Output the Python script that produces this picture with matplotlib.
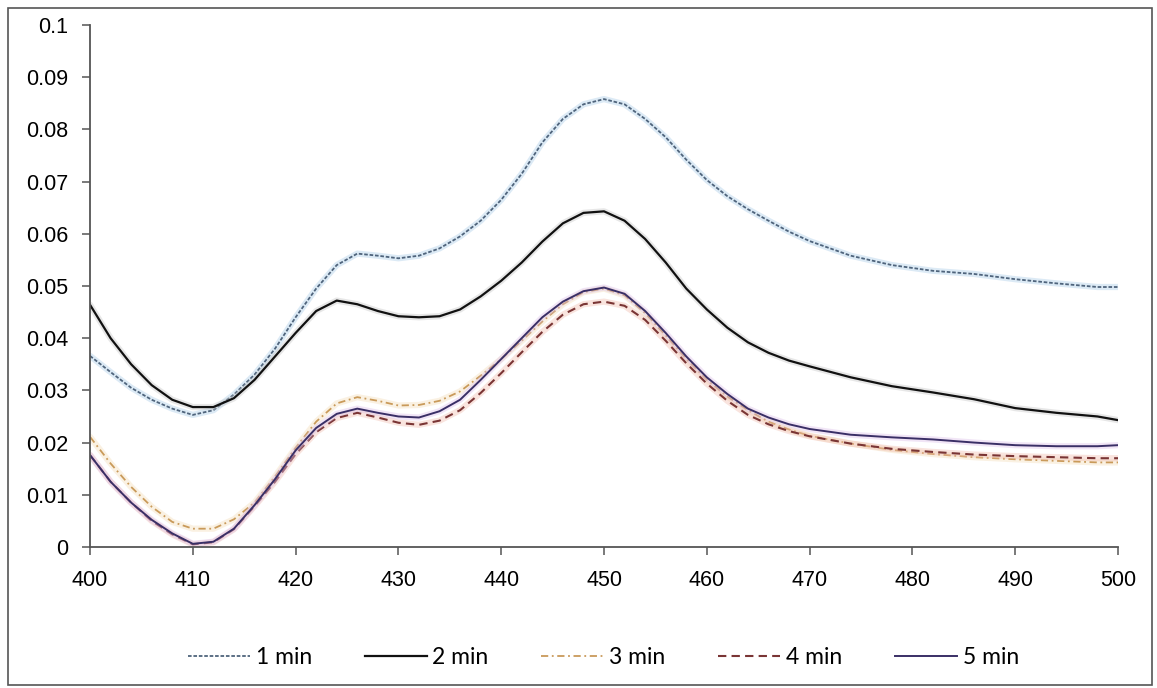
import matplotlib
matplotlib.use("Agg")
import matplotlib.pyplot as plt

# wavelength (nm)
wl = [400, 402, 404, 406, 408, 410, 412, 414, 416, 418, 420, 422, 424, 426,
      428, 430, 432, 434, 436, 438, 440, 442, 444, 446, 448, 450, 452, 454,
      456, 458, 460, 462, 464, 466, 468, 470, 474, 478, 482, 486, 490, 494,
      498, 500]

# absorbance after each reaction time
abs_1min = [0.0366, 0.0335, 0.0305, 0.0282, 0.0265, 0.0253, 0.0262, 0.0292, 0.0330,
            0.0380, 0.0440, 0.0495, 0.0540, 0.0562, 0.0558, 0.0553, 0.0558, 0.0572,
            0.0595, 0.0625, 0.0665, 0.0715, 0.0775, 0.0820, 0.0848, 0.0858, 0.0848,
            0.0820, 0.0785, 0.0742, 0.0703, 0.0672, 0.0647, 0.0625, 0.0604, 0.0586,
            0.0558, 0.0540, 0.0529, 0.0523, 0.0513, 0.0505, 0.0498, 0.0498]
abs_2min = [0.0464, 0.0400, 0.0350, 0.0310, 0.0282, 0.0268, 0.0268, 0.0285, 0.0320,
            0.0365, 0.0410, 0.0452, 0.0472, 0.0465, 0.0452, 0.0442, 0.0440, 0.0442,
            0.0455, 0.0480, 0.0510, 0.0545, 0.0585, 0.0620, 0.0640, 0.0643, 0.0625,
            0.0590, 0.0545, 0.0495, 0.0455, 0.0420, 0.0392, 0.0372, 0.0357, 0.0346,
            0.0325, 0.0308, 0.0296, 0.0283, 0.0266, 0.0257, 0.0250, 0.0243]
abs_3min = [0.0211, 0.0160, 0.0115, 0.0077, 0.0048, 0.0035, 0.0035, 0.0053, 0.0085,
            0.0135, 0.0190, 0.0240, 0.0275, 0.0287, 0.0280, 0.0271, 0.0272, 0.0280,
            0.0298, 0.0328, 0.0360, 0.0395, 0.0432, 0.0465, 0.0488, 0.0495, 0.0482,
            0.0448, 0.0405, 0.0360, 0.0320, 0.0288, 0.0262, 0.0240, 0.0225, 0.0213,
            0.0198, 0.0186, 0.0178, 0.0172, 0.0168, 0.0165, 0.0162, 0.0162]
abs_4min = [0.0176, 0.0125, 0.0085, 0.0050, 0.0024, 0.0005, 0.0009, 0.0034, 0.0078,
            0.0125, 0.0178, 0.0220, 0.0247, 0.0257, 0.0248, 0.0238, 0.0234, 0.0242,
            0.0262, 0.0295, 0.0333, 0.0373, 0.0412, 0.0445, 0.0465, 0.0470, 0.0462,
            0.0435, 0.0395, 0.0352, 0.0313, 0.0280, 0.0253, 0.0235, 0.0222, 0.0212,
            0.0198, 0.0188, 0.0182, 0.0177, 0.0174, 0.0172, 0.0170, 0.0170]
abs_5min = [0.0176, 0.0125, 0.0085, 0.0052, 0.0026, 0.0006, 0.0010, 0.0035, 0.0080,
            0.0130, 0.0185, 0.0228, 0.0255, 0.0265, 0.0257, 0.0250, 0.0248, 0.0260,
            0.0282, 0.0320, 0.0360, 0.0400, 0.0440, 0.0470, 0.0490, 0.0497, 0.0485,
            0.0452, 0.0410, 0.0365, 0.0325, 0.0293, 0.0265, 0.0248, 0.0235, 0.0226,
            0.0215, 0.0210, 0.0206, 0.0200, 0.0195, 0.0193, 0.0193, 0.0195]

labels = ["1 min", "2 min", "3 min", "4 min", "5 min"]
xticks = [400, 410, 420, 430, 440, 450, 460, 470, 480, 490, 500]
yticks = [0, 0.01, 0.02, 0.03, 0.04, 0.05, 0.06, 0.07, 0.08, 0.09, 0.1]
ytick_labels = ["0", "0.01", "0.02", "0.03", "0.04", "0.05", "0.06", "0.07",
                "0.08", "0.09", "0.1"]

styles = [
    dict(color="#4f647c", linestyle=(0, (2, 1)), linewidth=1.3, halo="#a8cbe8"),
    dict(color="#111111", linestyle="-", linewidth=1.6, halo="#c4c4c4"),
    dict(color="#c99a5a", linestyle=(0, (4, 2, 1, 2)), linewidth=1.3, halo="#f3dcb8"),
    dict(color="#7a3535", linestyle=(0, (4, 2.5)), linewidth=1.5, halo="#f0bcae"),
    dict(color="#3a2f66", linestyle="-", linewidth=1.4, halo="#dcc0ea"),
]

plt.rcParams["font.family"] = ["Liberation Sans", "DejaVu Sans"]

fig = plt.figure(figsize=(11.57, 6.88), dpi=100)
ax = fig.add_axes([0.0778, 0.205, 0.8885, 0.7587])

# outer frame round the whole chart
fig.patches.append(plt.Rectangle((0.007, 0.004), 0.989, 0.985, transform=fig.transFigure,
                                 fill=False, edgecolor="#555555", linewidth=1.2))

series = [abs_1min, abs_2min, abs_3min, abs_4min, abs_5min]
handles = []
for y, lab, st in zip(series, labels, styles):
    ax.plot(wl, y, color=st["halo"], linewidth=4.5, alpha=0.4,
            solid_capstyle="round", solid_joinstyle="round")
    h, = ax.plot(wl, y, color=st["color"], linestyle=st["linestyle"],
                 linewidth=st["linewidth"], label=lab,
                 solid_joinstyle="round", dash_joinstyle="round")
    handles.append(h)

ax.set_xlim(400, 500)
ax.set_ylim(0, 0.1)
ax.set_xticks(xticks)
ax.set_yticks(yticks)
ax.set_yticklabels(ytick_labels)
ax.tick_params(axis="y", labelsize=15.5, length=5.5, width=1.1, color="#555555",
               direction="out", pad=10)
ax.tick_params(axis="x", labelsize=15.5, length=5.5, width=1.1, color="#555555",
               direction="out", pad=11)

for side in ["top", "right"]:
    ax.spines[side].set_visible(False)
for side in ["left", "bottom"]:
    ax.spines[side].set_color("#555555")
    ax.spines[side].set_linewidth(1.3)

fig.legend(handles=handles, loc="center", bbox_to_anchor=(0.5216, 0.044), ncol=5,
           frameon=False, handlelength=2.7, columnspacing=2.3, handletextpad=0.26,
           prop={"family": ["Lato", "DejaVu Sans"], "size": 16.5})

fig.savefig("out.png", dpi=100)
